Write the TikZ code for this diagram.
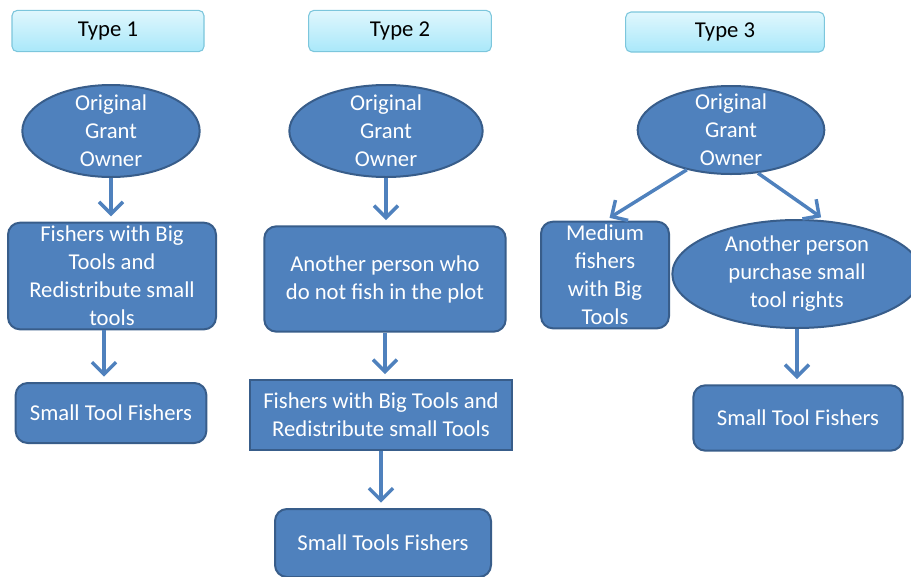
\documentclass[tikz,border=0pt]{standalone}
\usepackage{fontspec}
\setmainfont{Carlito}
\usetikzlibrary{shapes.geometric,arrows.meta}

\definecolor{boxblue}{HTML}{4F81BD}
\definecolor{boxline}{HTML}{385D8A}
\definecolor{headtop}{HTML}{E0F7FD}
\definecolor{headbot}{HTML}{A9E8FA}
\definecolor{headline}{HTML}{7CC6DC}

\tikzset{
  head/.style={draw=headline, line width=0.8pt, rounded corners=4pt,
    top color=headtop, bottom color=headbot, minimum height=31pt,
    font=\fontsize{17}{21}\selectfont, text=black},
  owner/.style={ellipse, draw=boxline, line width=1.5pt, fill=boxblue,
    text=white, align=center, inner xsep=0pt,
    font=\fontsize{17}{21}\selectfont},
  blk/.style={draw=boxline, line width=1.5pt, fill=boxblue, text=white,
    align=center, inner sep=0pt, rounded corners=9pt,
    font=\fontsize{17}{21}\selectfont},
  flow/.style={draw=boxblue, line width=2.6pt,
    -{Straight Barb[length=9pt,width=18pt,line width=2.6pt]}, shorten >=4pt}
}

\begin{document}
\begin{tikzpicture}[x=0.75pt, y=-0.75pt]
\useasboundingbox (0,0) rectangle (911,576);

% headers
\node (t1) at (108,31) [head, minimum width=144pt] {Type 1};
\node (t2) at (400,31) [head, minimum width=137pt] {Type 2};
\node (t3) at (725,32) [head, minimum width=149pt, minimum height=30pt] {Type 3};

% type 1
\node (g1) at (111,131) [owner, inner ysep=-5pt, minimum width=133pt, minimum height=69pt] {Original\\Grant\\Owner};
\node (f1) at (112,276) [blk, minimum width=156pt, minimum height=80pt] {Fishers with Big\\Tools and\\Redistribute small\\tools};
\node (s1) at (111,413) [blk, minimum width=143pt, minimum height=45pt] {Small Tool Fishers};

% type 2
\node (g2) at (386,131) [owner, inner ysep=-5pt, minimum width=145pt, minimum height=69pt] {Original\\Grant\\Owner};
\node (p2) at (385,279) [blk, minimum width=181pt, minimum height=79pt] {Another person who\\do not fish in the plot};
\node (f2) at (381,415) [blk, rounded corners=0pt, minimum width=196pt, minimum height=52pt] {Fishers with Big Tools and\\Redistribute small Tools};
\node (s2) at (383,543) [blk, minimum width=162pt, minimum height=51pt] {Small Tools Fishers};

% type 3
\node (g3) at (731,130) [owner, inner ysep=-5pt, minimum width=140pt, minimum height=66pt] {Original\\Grant\\Owner};
\node (m3) at (605,275) [blk, minimum width=96pt, minimum height=80pt] {Medium\\fishers\\with Big\\Tools};
\node (a3) at (797,274) [owner, inner ysep=-1pt, minimum width=187pt, minimum height=81pt] {Another person\\purchase small\\tool rights};
\node (s3) at (798,418) [blk, minimum width=157pt, minimum height=49pt] {Small Tool Fishers};

\draw[flow] (g1.south) -- (g1.south |- f1.north);
\draw[flow] (f1.south) ++(-8,0) coordinate (f1b) -- (f1b |- s1.north);
\draw[flow] (g2.south) -- (g2.south |- p2.north);
\draw[flow] (p2.south) -- (p2.south |- f2.north);
\draw[flow] (f2.south) -- (f2.south |- s2.north);
\draw[flow] (g3.222) -- (m3.north);
\draw[flow] (g3.-58) -- (a3.62);
\draw[flow] (a3.south) -- (a3.south |- s3.north);
\end{tikzpicture}
\end{document}
